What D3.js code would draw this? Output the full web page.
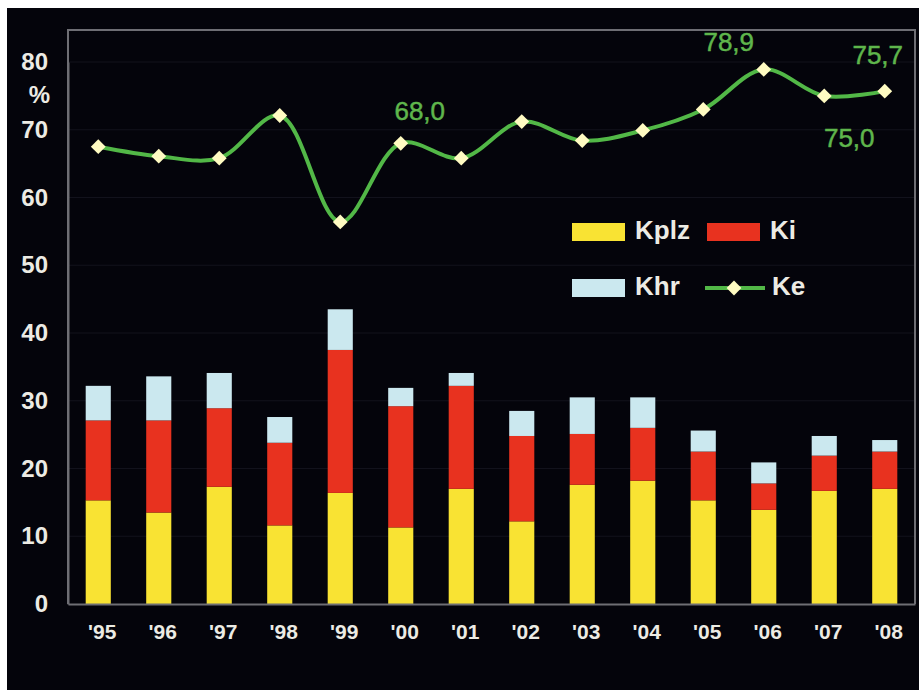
<html lang="en">
<head>
<meta charset="UTF-8">
<title>Ke / Kplz Ki Khr</title>
<style>
  body { margin: 0; background: #fff; }
  text { font-family: "Liberation Sans", Arial, sans-serif; }
</style>
</head>
<body>
<script src="https://d3js.org/d3.v7.min.js"></script>
<script>
  // data
  const years = ["'95", "'96", "'97", "'98", "'99", "'00", "'01", "'02", "'03", "'04", "'05", "'06", "'07", "'08"]
  const kplz = [15.3, 13.5, 17.3, 11.6, 16.4, 11.3, 17.0, 12.2, 17.6, 18.2, 15.3, 13.9, 16.7, 17.0]
  const ki   = [11.8, 13.6, 11.6, 12.2, 21.1, 17.9, 15.2, 12.6, 7.5, 7.8, 7.2, 3.9, 5.2, 5.5]
  const khr  = [5.1, 6.5, 5.2, 3.8, 6.0, 2.7, 1.9, 3.7, 5.4, 4.5, 3.1, 3.1, 2.9, 1.7]
  const ke   = [67.5, 66.1, 65.8, 72.1, 56.4, 68.0, 65.8, 71.2, 68.4, 69.9, 73.0, 78.9, 75.0, 75.7]
  const yTicks = [0, 10, 20, 30, 40, 50, 60, 70, 80]
  const labelled = [5, 11, 12, 13]

  const width = 919, height = 691
  const colors = { Kplz: "#f9e333", Ki: "#e8321f", Khr: "#cbe8ef", Ke: "#52b847" }

  let svg = d3.select("body").append("svg")
              .attr("width", width)
              .attr("height", height)

  svg.append("rect")
     .attr("x", 7).attr("y", 8)
     .attr("width", width - 7).attr("height", 682)
     .attr("fill", "#04040b")

  let x = d3.scaleBand()
            .domain(years)
            .range([68, 915])
            .paddingInner(0.585)
            .paddingOuter(0.2925)
  let y = d3.scaleLinear().domain([0, 80]).range([604, 62])

  // faint gridlines
  svg.append("g").selectAll("line")
     .data(yTicks.filter(d => d > 0))
     .join("line")
     .attr("x1", 68).attr("x2", 915)
     .attr("y1", d => y(d)).attr("y2", d => y(d))
     .attr("stroke", "#12121c")
     .attr("stroke-width", 1)

  // stacked bars
  let rows = years.map((yr, i) => ({ year: yr, Kplz: kplz[i], Ki: ki[i], Khr: khr[i] }))
  let stack = d3.stack().keys(["Kplz", "Ki", "Khr"])(rows)

  svg.append("g").selectAll("g")
     .data(stack)
     .join("g")
     .attr("fill", d => colors[d.key])
     .selectAll("rect")
     .data(d => d)
     .join("rect")
     .attr("x", d => x(d.data.year))
     .attr("width", x.bandwidth())
     .attr("y", d => y(d[1]))
     .attr("height", d => y(d[0]) - y(d[1]))

  // frame
  svg.append("path")
     .attr("d", "M68,604V30H915V604")
     .attr("fill", "none")
     .attr("stroke", "#6e6e74")
     .attr("stroke-width", 2)

  let yAxis = d3.axisLeft(y).tickValues(yTicks).tickSize(0).tickPadding(20)
  let gy = svg.append("g").attr("transform", "translate(68,0)").call(yAxis)
  gy.select(".domain").attr("stroke", "#6e6e74").attr("stroke-width", 2)
  gy.selectAll("text")
    .attr("fill", "#ecebe4")
    .style("font-size", "24px")
    .style("font-weight", "bold")

  svg.append("text")
     .attr("x", 50).attr("y", 97)
     .attr("text-anchor", "end")
     .attr("dominant-baseline", "middle")
     .attr("fill", "#ecebe4")
     .style("font-size", "24px")
     .style("font-weight", "bold")
     .text("%")

  let xAxis = d3.axisBottom(x).tickSize(0).tickPadding(20)
  let gx = svg.append("g").attr("transform", "translate(0,604)").call(xAxis)
  gx.select(".domain").attr("stroke", "#6e6e74").attr("stroke-width", 2)
  gx.selectAll("text")
    .attr("fill", "#ecebe4")
    .attr("dx", 4)
    .style("font-size", "21px")
    .style("font-weight", "bold")

  // Ke line
  let cx = (d, i) => x(years[i]) + x.bandwidth() / 2
  let line = d3.line()
               .x(cx)
               .y(d => y(d))
               .curve(d3.curveCatmullRom.alpha(0.5))

  svg.append("path")
     .datum(ke)
     .attr("d", line)
     .attr("fill", "none")
     .attr("stroke", colors.Ke)
     .attr("stroke-width", 4)

  let diamond = d3.symbol().type(d3.symbolDiamond2).size(140)
  svg.append("g").selectAll("path")
     .data(ke)
     .join("path")
     .attr("d", diamond)
     .attr("transform", (d, i) => "translate(" + cx(d, i) + "," + y(d) + ")")
     .attr("fill", "#fffbc2")

  // value labels
  let offsets = { 5: [19, -30], 11: [-35, -25], 12: [25, 44], 13: [-7, -34] }
  svg.append("g").selectAll("text")
     .data(labelled)
     .join("text")
     .attr("x", i => cx(ke[i], i) + offsets[i][0])
     .attr("y", i => y(ke[i]) + offsets[i][1])
     .attr("text-anchor", "middle")
     .attr("dominant-baseline", "middle")
     .attr("fill", "#5fb64c")
     .attr("stroke", "#5fb64c")
     .attr("stroke-width", 0.5)
     .style("font-size", "26px")
     .text(i => d3.format(".1f")(ke[i]).replace(".", ","))

  // legend
  let legend = svg.append("g")
  let items = [
    { key: "Kplz", x: 572, y: 232 },
    { key: "Ki", x: 707, y: 232 },
    { key: "Khr", x: 572, y: 288 },
    { key: "Ke", x: 705, y: 288 }
  ]
  items.forEach(it => {
    if (it.key === "Ke") {
      legend.append("line")
            .attr("x1", it.x).attr("x2", it.x + 60)
            .attr("y1", it.y).attr("y2", it.y)
            .attr("stroke", colors.Ke).attr("stroke-width", 4)
      legend.append("path")
            .attr("d", diamond)
            .attr("transform", "translate(" + (it.x + 29) + "," + it.y + ")")
            .attr("fill", "#fffbc2")
    } else {
      legend.append("rect")
            .attr("x", it.x).attr("y", it.y - 9)
            .attr("width", 53).attr("height", 18)
            .attr("fill", colors[it.key])
    }
    legend.append("text")
          .attr("x", it.x + (it.key === "Ke" ? 67 : 63))
          .attr("y", it.y)
          .attr("dominant-baseline", "middle")
          .attr("fill", "#ecebe4")
          .style("font-size", "26px")
          .style("font-weight", "bold")
          .text(it.key)
  })
</script>
</body>
</html>
